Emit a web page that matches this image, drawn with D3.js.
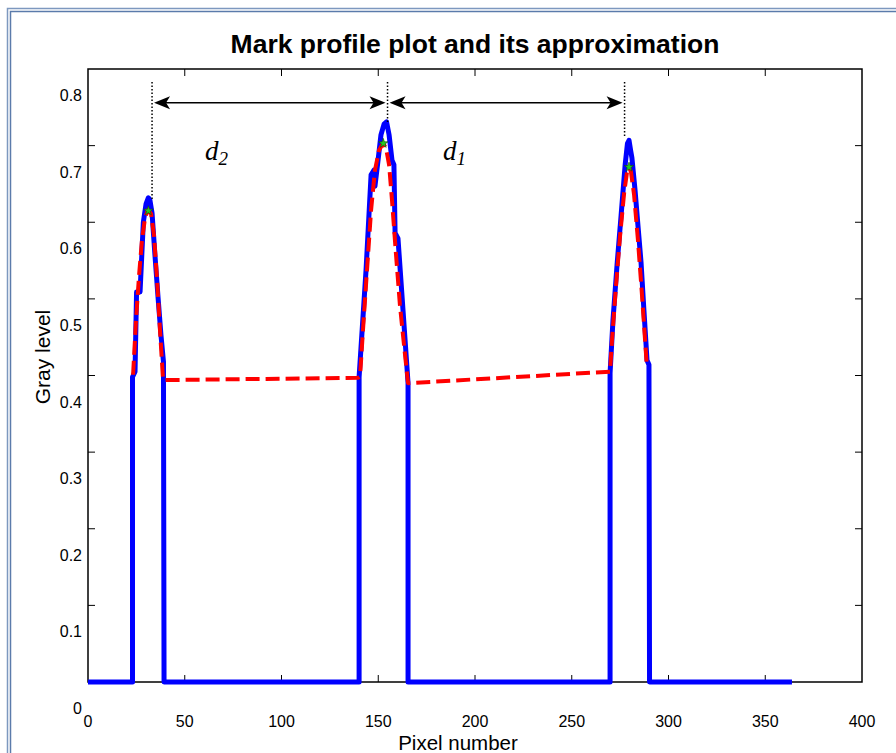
<!DOCTYPE html>
<html><head><meta charset="utf-8">
<script src="https://cdn.jsdelivr.net/npm/d3@7"></script>
<style>html,body{margin:0;padding:0;background:#fff;}svg{display:block;font-family:"Liberation Sans",Arial,sans-serif;}</style>
</head><body>
<script>
// ---- data ----
const profileX = [0,23.0,23.0,24.3,25.1,26.9,28.6,30.0,31.2,32.0,33.1,34.6,36.2,37.7,39.0,39.3,
  140.1,140.1,143.7,146.3,147.8,148.3,149.9,151.4,153.0,154.3,155.6,157.1,158.1,158.7,160.2,162.8,165.4,165.4,
  269.8,269.8,271.3,273.4,275.5,277.6,278.8,279.6,280.4,281.1,282.7,284.2,285.8,287.3,288.9,289.9,290.2,363.8];
const profileY = [0,0,0.398,0.405,0.509,0.509,0.600,0.624,0.632,0.629,0.612,0.557,0.502,0.453,0.418,0,
  0,0.398,0.538,0.662,0.668,0.647,0.681,0.714,0.728,0.731,0.714,0.681,0.675,0.586,0.579,0.485,0.390,0,
  0,0.403,0.472,0.544,0.609,0.675,0.703,0.707,0.694,0.684,0.642,0.596,0.548,0.485,0.420,0.414,0,0];
const approxX = [23.3,24.8,26.4,27.9,29.5,31.0,32.6,34.1,35.7,37.2,38.8,
  139.5,140.6,142.1,144.2,146.3,148.3,150.4,152.5,154.0,155.6,157.1,159.2,161.2,163.3,165.4,
  269.8,270.8,272.9,275.0,277.1,278.6,279.6,280.6,282.2,284.2,286.3,288.7];
const approxY = [0.401,0.472,0.531,0.577,0.606,0.616,0.611,0.583,0.525,0.459,0.394,
  0.397,0.399,0.459,0.538,0.616,0.668,0.694,0.703,0.697,0.675,0.629,0.557,0.492,0.440,0.390,
  0.405,0.446,0.518,0.583,0.639,0.666,0.671,0.666,0.636,0.577,0.505,0.416];
const peakX = [31.2,152.6,279.6];
const peakY = [0.615,0.703,0.672];
const guideX = [33.1,154.8,277.3];
const guideBottom = [0.629,0.730,0.710];
const guideTop = 0.783;
const arrowY = 0.756;
const distLabels = [{t:"d",s:"2",x:60.5},{t:"d",s:"1",x:183.5}];
const distLabelY = 0.681;
const xTicks = [0,50,100,150,200,250,300,350,400];
const yTicks = [0,0.1,0.2,0.3,0.4,0.5,0.6,0.7,0.8];
const title = "Mark profile plot and its approximation";
const xLabel = "Pixel number";
const yLabel = "Gray level";

// ---- layout ----
const W = 896, H = 753;
const svg = d3.select("body").append("svg").attr("width", W).attr("height", H);
const L = 88, R = 862, T = 69, B = 682;
const x = d3.scaleLinear().domain([0,400]).range([L,R]);
const y = d3.scaleLinear().domain([0,0.8]).range([B,T]);

// window border (double blue)
svg.append("rect").attr("x",7.5).attr("y",8.5).attr("width",W).attr("height",H).attr("fill","none").attr("stroke","#7d98bf").attr("stroke-width",1.5);
svg.append("rect").attr("x",10.5).attr("y",11.5).attr("width",W).attr("height",H).attr("fill","none").attr("stroke","#5b7bab").attr("stroke-width",1.5);

// title
svg.append("text").attr("x",475).attr("y",53).attr("text-anchor","middle").attr("font-weight","bold").attr("font-size",26.5).attr("fill","#000").text(title);

// frame
svg.append("rect").attr("x",L).attr("y",T).attr("width",R-L).attr("height",B-T).attr("fill","none").attr("stroke","#000").attr("stroke-width",1.5);

// ticks
const tl = 7;
const g = svg.append("g").attr("stroke","#000").attr("stroke-width",1);
xTicks.slice(1,-1).forEach(v=>{
  g.append("line").attr("x1",x(v)).attr("x2",x(v)).attr("y1",B).attr("y2",B-tl);
  g.append("line").attr("x1",x(v)).attr("x2",x(v)).attr("y1",T).attr("y2",T+tl);
});
yTicks.slice(1,-1).forEach(v=>{
  g.append("line").attr("x1",L).attr("x2",L+tl).attr("y1",y(v)).attr("y2",y(v));
  g.append("line").attr("x1",R).attr("x2",R-tl).attr("y1",y(v)).attr("y2",y(v));
});

// tick labels
svg.append("g").selectAll("text").data(xTicks).join("text")
  .attr("x",d=>x(d)).attr("y",B+45).attr("text-anchor","middle").attr("font-size",16).attr("fill","#000").text(d=>d);
svg.append("g").selectAll("text").data(yTicks).join("text")
  .attr("x",L-6).attr("y",d=>y(d)+32).attr("text-anchor","end").attr("font-size",16).attr("fill","#000").text(d=>d===0?"0":d.toFixed(1));

// axis labels
svg.append("text").attr("x",458).attr("y",750).attr("text-anchor","middle").attr("font-size",20.5).attr("fill","#000").text(xLabel);
svg.append("text").attr("transform","translate(50,357) rotate(-90)").attr("text-anchor","middle").attr("font-size",21).attr("fill","#000").text(yLabel);

// profile
const line = d3.line().x(d=>x(d[0])).y(d=>y(d[1]));
svg.append("path").datum(profileX.map((v,i)=>[v,profileY[i]])).attr("d",line)
  .attr("fill","none").attr("stroke","#0000ff").attr("stroke-width",5).attr("stroke-linejoin","round");
svg.append("path").datum(approxX.map((v,i)=>[v,approxY[i]])).attr("d",line)
  .attr("fill","none").attr("stroke","#ff0000").attr("stroke-width",4).attr("stroke-dasharray","14,6").attr("stroke-linejoin","round");

// peak markers
svg.append("g").selectAll("path").data(peakX).join("path")
  .attr("transform",(d,i)=>`translate(${x(d)},${y(peakY[i])})`)
  .attr("d",d3.symbol(d3.symbolStar,28)).attr("fill","#22cc22").attr("stroke","#114411").attr("stroke-width",0.6);

// guides
guideX.forEach((v,i)=>{
  svg.append("line").attr("x1",x(v)).attr("x2",x(v)).attr("y1",y(guideTop)).attr("y2",y(guideBottom[i]))
    .attr("stroke","#000").attr("stroke-width",1.5).attr("stroke-dasharray","1.5,2");
});

// arrows
function head(px,py,dir){
  const l=16,w=6.5,n=4;
  svg.append("path").attr("d",`M${px},${py} L${px-dir*l},${py-w} L${px-dir*(l-n)},${py} L${px-dir*l},${py+w} Z`).attr("fill","#000");
}
const ay = y(arrowY);
for(let i=0;i<guideX.length-1;i++){
  const a=x(guideX[i])+2, b=x(guideX[i+1])-2;
  svg.append("line").attr("x1",a+6).attr("x2",b-6).attr("y1",ay).attr("y2",ay).attr("stroke","#000").attr("stroke-width",1.5);
  head(a,ay,-1); head(b,ay,1);
}

// d labels
distLabels.forEach(d=>{
  const t = svg.append("text").attr("x",x(d.x)).attr("y",y(distLabelY)).attr("font-family","'Liberation Serif','Times New Roman',serif").attr("font-style","italic").attr("font-size",27).attr("fill","#000");
  t.append("tspan").text(d.t);
  t.append("tspan").attr("font-size",19).attr("dy",5).text(d.s);
});
</script>
</body></html>
